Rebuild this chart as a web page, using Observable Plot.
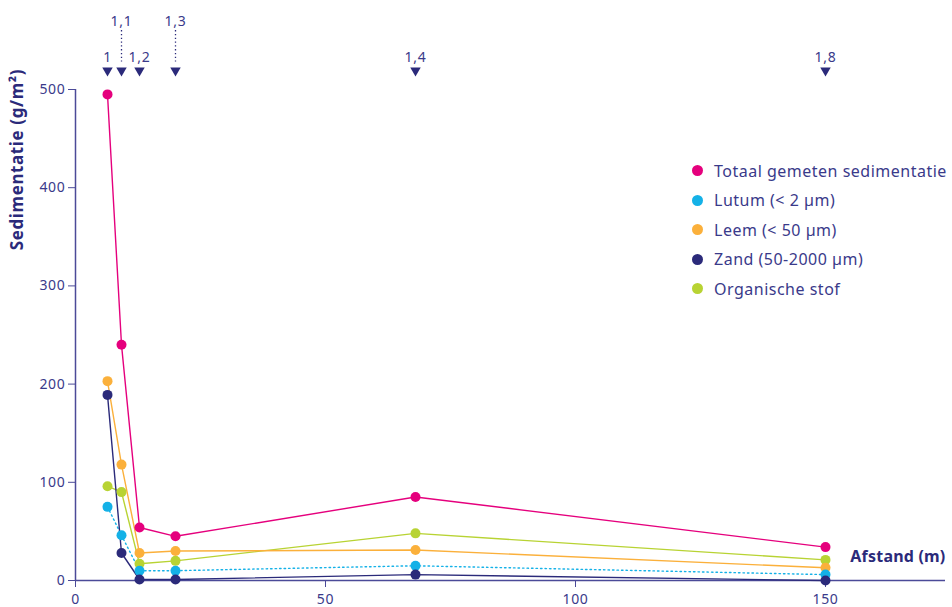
<!DOCTYPE html>
<html>
<head>
<meta charset="utf-8">
<script src="https://cdn.jsdelivr.net/npm/d3@7"></script>
<script src="https://cdn.jsdelivr.net/npm/@observablehq/plot@0.6"></script>
<style>
  html, body { margin: 0; padding: 0; background: #fff; }
  #wrap { position: relative; width: 952px; height: 607px; font-family: "Noto Sans", sans-serif; }
  #wrap svg text { letter-spacing: 0.7px; }
  #wrap svg .ytitle text { letter-spacing: 0.6px; }
  #wrap svg .xtitle text { letter-spacing: 0.2px; }
  #legend { position: absolute; left: 692px; top: 156px; color: #3a3a8a; font-size: 16px; letter-spacing: 0.5px; }
  #legend .row { height: 29.5px; display: flex; align-items: center; white-space: nowrap; }
  #legend .sw { width: 11px; height: 11px; border-radius: 50%; margin-right: 11px; }
</style>
</head>
<body>
<div id="wrap"><div id="legend"></div></div>
<script>
// ---- data ----
const distances = [6.4, 9.2, 12.8, 20, 68, 150];
const seriesNames = ["Totaal gemeten sedimentatie", "Lutum (< 2 µm)", "Leem (< 50 µm)", "Zand (50-2000 µm)", "Organische stof"];
const totaal    = [495, 240, 54, 45, 85, 34];
const lutum     = [75, 46, 10, 10, 15, 6];
const leem      = [203, 118, 28, 30, 31, 13];
const zand      = [189, 28, 1, 1, 6, 0];
const organisch = [96, 90, 17, 20, 48, 21];
const seriesColors = ["#e5007d", "#14b1e7", "#fbb03b", "#2b2a7a", "#b8d333"];
const markerLabels = ["1", "1,1", "1,2", "1,3", "1,4", "1,8"];
const markerRaised = [false, true, false, true, false, false];
const xTicks = [0, 50, 100, 150];
const yTicks = [0, 100, 200, 300, 400, 500];

const values = [totaal, lutum, leem, zand, organisch];
const rows = [];
values.forEach((vals, si) => vals.forEach((v, i) => rows.push({series: seriesNames[si], x: distances[i], y: v})));
const markers = distances.map((d, i) => ({x: d, label: markerLabels[i], raised: markerRaised[i]}));

const axisColor = "#4b4a98";
const textColor = "#3a3a8a";
const drawOrder = [0, 4, 2, 1, 3];

const marks = [];
for (const si of drawOrder) {
  const data = rows.filter(r => r.series === seriesNames[si]);
  marks.push(Plot.line(data, {x: "x", y: "y", stroke: seriesColors[si], strokeWidth: 1.4,
    strokeDasharray: si === 1 ? "1.5,3" : null}));
}
for (const si of drawOrder) {
  const data = rows.filter(r => r.series === seriesNames[si]);
  marks.push(Plot.dot(data, {x: "x", y: "y", fill: seriesColors[si], r: 5}));
}

const chart = Plot.plot({
  width: 952,
  height: 607,
  marginLeft: 75,
  marginRight: 7,
  marginTop: 89,
  marginBottom: 27,
  style: {fontFamily: "Noto Sans, sans-serif", background: "#fff", overflow: "visible"},
  x: {domain: [0, 174]},
  y: {domain: [0, 500]},
  marks: [
    Plot.axisY({ticks: yTicks, tickSize: 7, tickPadding: 3, stroke: axisColor, fill: textColor, fontSize: 14, label: null}),
    Plot.axisX({ticks: xTicks, tickSize: 7, tickPadding: 7, stroke: axisColor, fill: textColor, fontSize: 14, label: null}),
    Plot.ruleY([0], {stroke: axisColor, strokeWidth: 1.5}),
    Plot.ruleX([0], {stroke: axisColor, strokeWidth: 1.5}),
    ...marks,
    // top distance markers
    Plot.dot(markers, {x: "x", frameAnchor: "top", dy: -19, symbol: "triangle2", r: 5, fill: "#2b2a7a", rotate: 180}),
    Plot.text(markers.filter(m => !m.raised), {x: "x", text: "label", frameAnchor: "top", dy: -37, fill: textColor, fontSize: 14}),
    Plot.text(markers.filter(m => m.raised), {x: "x", text: "label", frameAnchor: "top", dy: -73, fill: textColor, fontSize: 14}),
    Plot.ruleX(markers.filter(m => m.raised), {x: "x", y1: 560, y2: 528, stroke: "#2b2a7a", strokeWidth: 1.3, strokeDasharray: "1.3,2.5"}),
    // axis titles
    Plot.text(["Sedimentatie (g/m²)"], {className: "ytitle", frameAnchor: "top-left", textAnchor: "middle", lineAnchor: "middle", dx: -58, dy: 70, rotate: -90, text: d => d, fill: "#2b2a7a", fontSize: 17, fontWeight: "bold"}),
    Plot.text(["Afstand (m)"], {className: "xtitle", frameAnchor: "bottom-right", dy: -19, textAnchor: "end", text: d => d, fill: "#2b2a7a", fontSize: 16, fontWeight: "bold"})
  ]
});
document.getElementById("wrap").prepend(chart);

const legend = document.getElementById("legend");
seriesNames.forEach((name, i) => {
  const row = document.createElement("div");
  row.className = "row";
  const sw = document.createElement("span");
  sw.className = "sw";
  sw.style.background = seriesColors[i];
  const label = document.createElement("span");
  label.textContent = name;
  row.append(sw, label);
  legend.append(row);
});
</script>
</body>
</html>
